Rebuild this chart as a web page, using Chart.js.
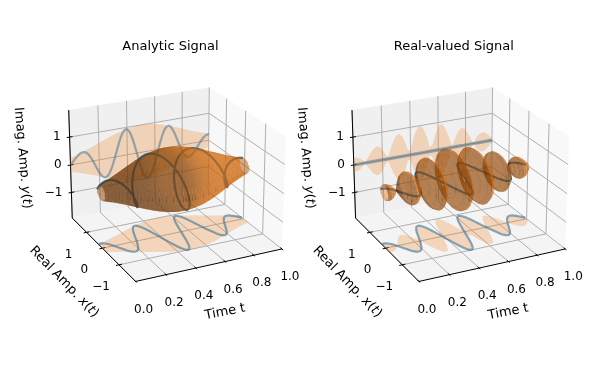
<!DOCTYPE html>
<html>
<head>
<meta charset="utf-8">
<style>
  html, body { margin: 0; padding: 0; background: #fff; }
  canvas { display: block; }
</style>
<script src="https://cdn.jsdelivr.net/npm/chart.js@4/dist/chart.umd.min.js"></script>
</head>
<body>
<canvas id="c" width="595" height="384"></canvas>
<script>
// values, one sample every 0.02 in t
const times = [0,.02,.04,.06,.08,.1,.12,.14,.16,.18,.2,.22,.24,.26,.28,.3,.32,.34,.36,.38,.4,.42,.44,.46,.48,.5,
  .52,.54,.56,.58,.6,.62,.64,.66,.68,.7,.72,.74,.76,.78,.8,.82,.84,.86,.88,.9,.92,.94,.96,.98,1];
const envelope = [.25,.278,.309,.341,.375,.411,.448,.487,.526,.566,.607,.647,.687,.726,.764,.801,.835,.868,.897,.923,.946,.965,.98,.991,.998,1,
  .998,.991,.98,.965,.946,.923,.897,.868,.835,.801,.764,.726,.687,.647,.607,.566,.526,.487,.448,.411,.375,.341,.309,.278,.25];
const realPart = [.25,.256,.214,.121,-.014,-.175,-.334,-.461,-.524,-.503,-.387,-.184,.078,.358,.607,.776,.826,.739,.518,.196,-.177,-.538,-.821,-.976,-.972,-.809,
  -.513,-.137,.256,.596,.829,.918,.857,.661,.374,.05,-.254,-.491,-.625,-.647,-.565,-.402,-.2,.006,.181,.3,.352,.341,.278,.183,.077];
const imagPart = [0,.109,.222,.318,.375,.372,.298,.156,-.039,-.26,-.468,-.62,-.683,-.632,-.465,-.199,.125,.456,.732,.902,.929,.801,.535,.173,-.224,-.588,
  -.855,-.981,-.946,-.758,-.456,-.092,.266,.562,.746,.799,.72,.535,.284,.016,-.223,-.398,-.487,-.487,-.41,-.282,-.129,.017,.135,.21,.238];
const zeros = times.map(() => 0);

const timeTicks = [0, .2, .4, .6, .8, 1];
const ampTicks = [-1, 0, 1];
const panelTitles = ["Analytic Signal", "Real-valued Signal"];

// view of the 3d box
const LIM = 1.95, ELEV = 23, AZIM = -116, DIST = 10, SCALE = 1340;
const BOX = [1.19, 1.19, 0.893];
const CY = 179;
const PANEL_X = [174.5, 457.8];

const el = ELEV * Math.PI / 180, az = AZIM * Math.PI / 180;
const W = [Math.cos(el) * Math.cos(az), Math.cos(el) * Math.sin(az), Math.sin(el)];
const U = [-Math.sin(az), Math.cos(az), 0];
const V = [-Math.sin(el) * Math.cos(az), -Math.sin(el) * Math.sin(az), Math.cos(el)];

function view(p, t, x, z) {
  const d = [(t - .5) * BOX[0], x / (2 * LIM) * BOX[1], z / (2 * LIM) * BOX[2]];
  const xe = d[0] * U[0] + d[1] * U[1];
  const ye = d[0] * V[0] + d[1] * V[1] + d[2] * V[2];
  const ze = d[0] * W[0] + d[1] * W[1] + d[2] * W[2];
  const f = SCALE / (DIST - ze);
  return { x: PANEL_X[p] + xe * f, y: CY - ye * f, depth: ze };
}

const datasets = [];

function line(p, pts, color, width, tension) {
  datasets.push({
    data: pts.map(q => view(p, q[0], q[1], q[2])),
    showLine: true, pointRadius: 0, borderColor: color, borderWidth: width,
    tension: tension || 0, fill: false, clip: false
  });
}

function poly(p, pts, color, stroke, strokeColor) {
  datasets.push({
    data: pts.map(q => view(p, q[0], q[1], q[2])),
    showLine: true, pointRadius: 0, borderWidth: stroke || 0, borderColor: strokeColor || "rgba(0,0,0,0)",
    backgroundColor: color, fill: "shape", clip: false
  });
}

function drawBox(p) {
  poly(p, [[0, LIM, -LIM], [1, LIM, -LIM], [1, LIM, LIM], [0, LIM, LIM]], "#f0f0f0");
  poly(p, [[1, LIM, -LIM], [1, -LIM, -LIM], [1, -LIM, LIM], [1, LIM, LIM]], "#f8f8f8");
  poly(p, [[0, -LIM, -LIM], [1, -LIM, -LIM], [1, LIM, -LIM], [0, LIM, -LIM]], "#f4f4f4");
  const grid = "#b0b0b0";
  timeTicks.forEach(t => line(p, [[t, -LIM, -LIM], [t, LIM, -LIM], [t, LIM, LIM]], grid, 1));
  ampTicks.forEach(a => {
    line(p, [[0, a, -LIM], [1, a, -LIM], [1, a, LIM]], grid, 1);
    line(p, [[0, LIM, a], [1, LIM, a], [1, -LIM, a]], grid, 1);
  });
  line(p, [[0, -LIM, -LIM], [1, -LIM, -LIM]], "#000", 1);
  line(p, [[0, -LIM, -LIM], [0, LIM, -LIM]], "#000", 1);
  line(p, [[0, LIM, -LIM], [0, LIM, LIM]], "#000", 1);
  // tick marks
  timeTicks.forEach(t => line(p, [[t, -LIM - .06, -LIM], [t, -LIM + .08, -LIM]], "#000", 1));
  ampTicks.forEach(a => {
    line(p, [[-.02, a, -LIM], [.02, a, -LIM]], "#000", 1);
    line(p, [[-.02, LIM, a], [.02, LIM, a]], "#000", 1);
  });
}

function drawSignal(p, re, im, radius, wallWidth, tubeAlpha) {
  // shadows on the back wall and the floor
  const wall = times.map((t, i) => [t, LIM, radius[i]]).concat(times.map((t, i) => [t, LIM, -radius[i]]).reverse());
  const floor = times.map((t, i) => [t, radius[i], -LIM]).concat(times.map((t, i) => [t, -radius[i], -LIM]).reverse());
  poly(p, wall, "rgba(235,122,25,0.26)");
  poly(p, floor, "rgba(235,122,25,0.26)");
  line(p, times.map((t, i) => [t, LIM, im[i]]), "rgba(60,110,145,0.5)", wallWidth, .3);
  line(p, times.map((t, i) => [t, re[i], -LIM]), "rgba(40,105,150,0.55)", 2.2, .3);
  line(p, times.map((t, i) => [t, re[i], im[i]]), "#1f77b4", 2.2, .3);

  // tube around the signal, one quad per time step and angle
  const nAngles = 24, quads = [];
  for (let i = 0; i < times.length - 1; i++) {
    for (let j = 0; j < nAngles; j++) {
      const a0 = j / nAngles * 2 * Math.PI, a1 = (j + 1) / nAngles * 2 * Math.PI;
      const q = [
        [times[i], radius[i] * Math.cos(a0), radius[i] * Math.sin(a0)],
        [times[i], radius[i] * Math.cos(a1), radius[i] * Math.sin(a1)],
        [times[i + 1], radius[i + 1] * Math.cos(a1), radius[i + 1] * Math.sin(a1)],
        [times[i + 1], radius[i + 1] * Math.cos(a0), radius[i + 1] * Math.sin(a0)]
      ];
      const depth = q.reduce((s, c) => s + view(p, c[0], c[1], c[2]).depth, 0) / 4;
      // normal from the diagonals, pointing inward, light as in plot_surface
      const d1 = [q[2][0] - q[0][0], q[2][1] - q[0][1], q[2][2] - q[0][2]];
      const d2 = [q[3][0] - q[1][0], q[3][1] - q[1][1], q[3][2] - q[1][2]];
      let n = [d1[1] * d2[2] - d1[2] * d2[1], d1[2] * d2[0] - d1[0] * d2[2], d1[0] * d2[1] - d1[1] * d2[0]];
      const len = Math.hypot(n[0], n[1], n[2]) || 1;
      const mid = [(q[0][1] + q[2][1]) / 2, (q[0][2] + q[2][2]) / 2];
      if (n[1] * mid[0] + n[2] * mid[1] > 0) n = n.map(c => -c);
      const shade = (n[0] * -.667 + n[1] * -.667 + n[2] * .333) / len;
      const k = .3 + .7 * (shade + 1) / 2;
      const rgb = `${Math.round(255 * k)},${Math.round(127 * k)},${Math.round(14 * k)}`;
      quads.push({ q, depth, color: `rgba(${rgb},${tubeAlpha})`, seam: `rgba(${rgb},0.12)` });
    }
  }
  quads.sort((a, b) => a.depth - b.depth);
  quads.forEach(s => poly(p, s.q, s.color, .5, s.seam));
}

drawBox(0);
drawSignal(0, realPart, imagPart, envelope, 2.2, .5);
drawBox(1);
drawSignal(1, realPart, zeros, realPart.map(Math.abs), 3.2, .42);

// chart.js paints the first dataset last
datasets.reverse();

function label(ctx, text, x, y, rot, size, align) {
  ctx.save();
  ctx.translate(x, y);
  ctx.rotate(rot * Math.PI / 180);
  ctx.textAlign = align || "center";
  ctx.textBaseline = "middle";
  ctx.font = (size || 12) + 'px "DejaVu Sans"';
  ctx.fillStyle = "#000";
  ctx.fillText(text, 0, 0);
  ctx.restore();
}

// runs of [text, italic] so x(t) and y(t) look like math text
function mathLabel(ctx, runs, x, y, rot) {
  ctx.save();
  ctx.translate(x, y);
  ctx.rotate(rot * Math.PI / 180);
  ctx.textBaseline = "middle";
  ctx.textAlign = "left";
  ctx.fillStyle = "#000";
  const font = it => (it ? "oblique " : "") + '13px "DejaVu Sans"';
  let total = 0;
  runs.forEach(r => { ctx.font = font(r[1]); total += ctx.measureText(r[0]).width; });
  let cur = -total / 2;
  runs.forEach(r => { ctx.font = font(r[1]); ctx.fillText(r[0], cur, 0); cur += ctx.measureText(r[0]).width; });
  ctx.restore();
}

const textPlugin = {
  id: "texts",
  afterDatasetsDraw(chart) {
    const ctx = chart.ctx;
    [0, 1].forEach(p => {
      const off = p * 283.3;
      label(ctx, panelTitles[p], 170.5 + off, 47, 0, 13);
      timeTicks.forEach(t => {
        const q = view(p, t, -LIM, -LIM);
        label(ctx, t.toFixed(1), q.x + 8, q.y + 28, 0);
      });
      ampTicks.forEach(a => {
        const q = view(p, 0, a, -LIM);
        label(ctx, a < 0 ? "\u2212" + Math.abs(a) : String(a), q.x - 18, q.y + 22, 0);
        const r = view(p, 0, LIM, a);
        label(ctx, a < 0 ? "\u2212" + Math.abs(a) : String(a), r.x - 9, r.y, 0, 12, "right");
      });
      label(ctx, "Time t", 225 + off, 312, -11, 13);
      mathLabel(ctx, [["Real Amp. ", false], ["x", true], ["(", false], ["t", true], [")", false]], 64 + off, 282, 46);
      mathLabel(ctx, [["Imag. Amp. ", false], ["y", true], ["(", false], ["t", true], [")", false]], 22.5 + off, 158, 85);
    });
  }
};

new Chart(document.getElementById("c"), {
  type: "scatter",
  data: { datasets },
  options: {
    responsive: false,
    animation: false,
    events: [],
    layout: { padding: 0 },
    plugins: { legend: { display: false }, tooltip: { enabled: false } },
    scales: {
      x: { type: "linear", min: 0, max: 595, display: false },
      y: { type: "linear", min: 0, max: 384, reverse: true, display: false }
    }
  },
  plugins: [textPlugin]
});
</script>
</body>
</html>
